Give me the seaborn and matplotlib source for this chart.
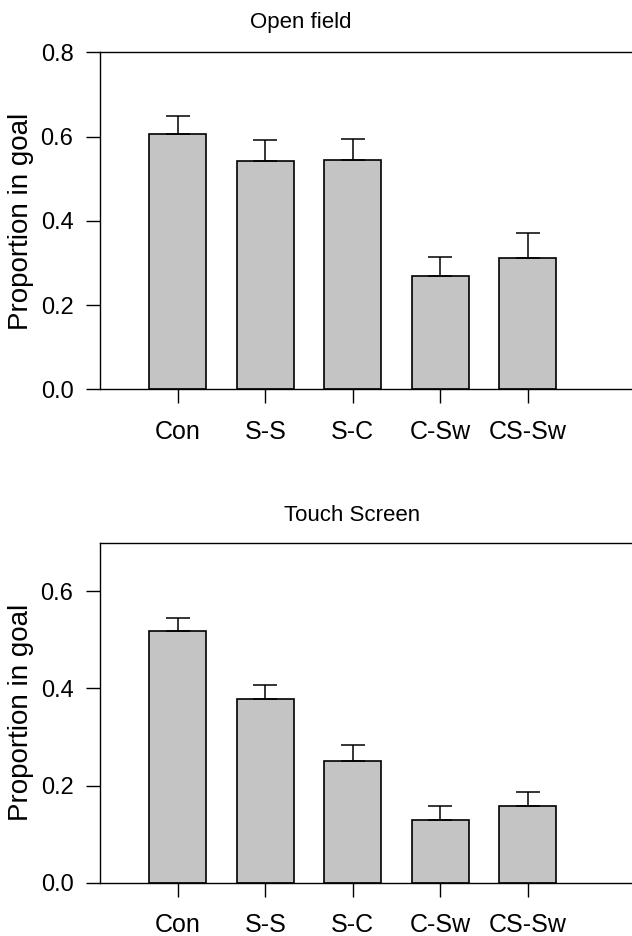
import seaborn as sns
import matplotlib.pyplot as plt
import pandas as pd

# groups and values
groups = ['Con', 'S-S', 'S-C', 'C-Sw', 'CS-Sw']
open_field = [0.607, 0.543, 0.545, 0.269, 0.313]
open_field_se = [0.043, 0.050, 0.050, 0.046, 0.059]
touch_screen = [0.518, 0.379, 0.250, 0.130, 0.157]
touch_screen_se = [0.028, 0.028, 0.034, 0.027, 0.029]

sns.set_theme(style='ticks')
plt.rcParams['font.family'] = ['Liberation Sans', 'DejaVu Sans']
for k in ['text.color', 'axes.labelcolor', 'xtick.color', 'ytick.color']:
    plt.rcParams[k] = 'black'

fig = plt.figure(figsize=(6.32, 9.36), dpi=100)
ax1 = fig.add_axes([0.158, 0.584, 0.842, 0.360])
ax2 = fig.add_axes([0.158, 0.057, 0.842, 0.363])

panels = [
    (ax1, open_field, open_field_se, 'Open field', 0.8, [0.0, 0.2, 0.4, 0.6, 0.8], 0.378, 17.5),
    (ax2, touch_screen, touch_screen_se, 'Touch Screen', 0.7, [0.0, 0.2, 0.4, 0.6], 0.474, 16),
]

for ax, vals, se, title, ymax, yticks, tx, tpad in panels:
    df = pd.DataFrame({'group': groups, 'value': vals})
    sns.barplot(data=df, x='group', y='value', ax=ax, color='#c4c4c4',
                edgecolor='black', linewidth=1.2, width=0.65, errorbar=None,
                saturation=1)
    ax.errorbar(range(len(groups)), vals, yerr=[[0] * len(se), se], fmt='none',
                ecolor='black', elinewidth=1.1, capsize=8.5, capthick=1.1)
    ax.set_xlim(-0.89, 5.19)
    ax.set_ylim(0, ymax)
    ax.set_yticks(yticks)
    ax.set_yticklabels([f'{t:.1f}' for t in yticks])
    ax.set_xlabel('')
    ax.set_ylabel('Proportion in goal', fontsize=20, labelpad=5)
    ax.set_title(title, x=tx, pad=tpad, fontsize=16)
    ax.spines['right'].set_visible(False)
    for s in ['left', 'bottom', 'top']:
        ax.spines[s].set_linewidth(1.0)
        ax.spines[s].set_color('black')
    ax.tick_params(axis='x', direction='out', length=10, width=1.0,
                   labelsize=18, pad=12)
    ax.tick_params(axis='y', direction='out', length=10, width=1.0,
                   labelsize=17, pad=9)

fig.savefig('out.png', dpi=100)
